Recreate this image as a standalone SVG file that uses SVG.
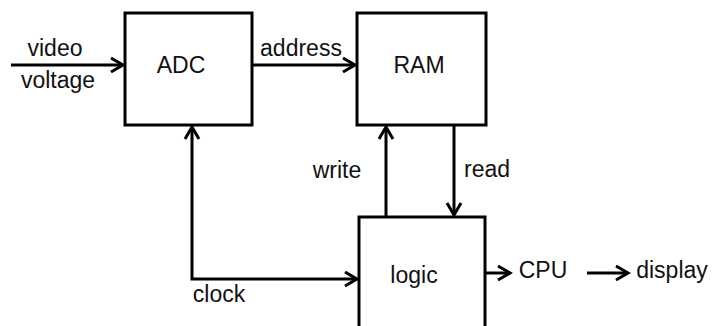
<svg xmlns="http://www.w3.org/2000/svg" width="712" height="326" viewBox="0 0 712 326">
<style>
.box{fill:#fff;stroke:#000;stroke-width:3}
.ln{fill:none;stroke:#000;stroke-width:3}
text{font-family:"Liberation Sans",Arial,sans-serif;font-size:23px;fill:#111}
</style>
<defs>
<marker id="ah" markerUnits="userSpaceOnUse" markerWidth="16" markerHeight="18" refX="13" refY="8" orient="auto-start-reverse" overflow="visible">
<path d="M1,1 L13,8 L1,15" fill="none" stroke="#000" stroke-width="3"/>
</marker>
</defs>
<rect width="712" height="326" fill="#fff"/>
<g id="connectors">
<line class="ln" x1="11" y1="65" x2="123" y2="65" marker-end="url(#ah)"/>
<line class="ln" x1="252" y1="65" x2="355" y2="65" marker-end="url(#ah)"/>
<line class="ln" x1="386" y1="217" x2="386" y2="127" marker-end="url(#ah)"/>
<line class="ln" x1="454" y1="125" x2="454" y2="215" marker-end="url(#ah)"/>
<path class="ln" d="M192,127 V279 H357" marker-start="url(#ah)" marker-end="url(#ah)"/>
<line class="ln" x1="485" y1="273" x2="510" y2="273" marker-end="url(#ah)"/>
<line class="ln" x1="587" y1="273" x2="628" y2="273" marker-end="url(#ah)"/>
</g>
<g id="adc">
<rect class="box" x="125" y="13" width="127" height="112"/>
<text x="181" y="73" text-anchor="middle">ADC</text>
</g>
<g id="ram">
<rect class="box" x="357" y="13" width="129" height="112"/>
<text x="419" y="73" text-anchor="middle">RAM</text>
</g>
<g id="logic">
<rect class="box" x="359" y="217" width="126" height="130"/>
<text x="414" y="283" text-anchor="middle">logic</text>
</g>
<g id="labels">
<text x="55" y="56" text-anchor="middle">video</text>
<text x="58" y="88" text-anchor="middle">voltage</text>
<text x="301" y="56" text-anchor="middle">address</text>
<text x="337" y="178" text-anchor="middle">write</text>
<text x="487" y="177" text-anchor="middle">read</text>
<text x="219" y="302" text-anchor="middle">clock</text>
</g>
<g id="cpu"><text x="543" y="278" text-anchor="middle">CPU</text></g>
<g id="display"><text x="672" y="278" text-anchor="middle">display</text></g>
</svg>
